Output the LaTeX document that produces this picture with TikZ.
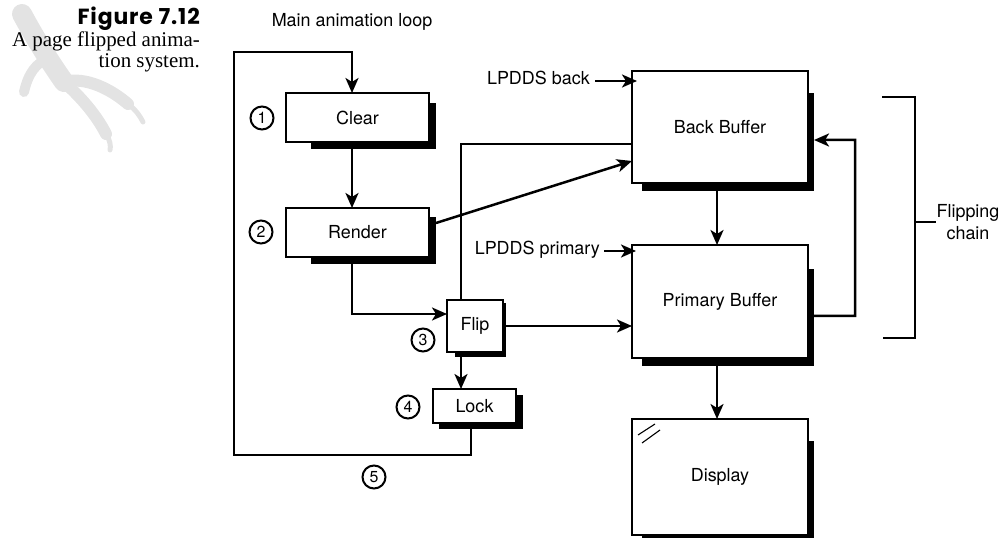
\documentclass[tikz,border=0pt]{standalone}
\usepackage{fontspec}
\setmainfont{Liberation Serif}
\newfontfamily\hel{TeX Gyre Heros}
\newfontfamily\figfont[LetterSpace=4]{Poppins}
\usetikzlibrary{arrows.meta,backgrounds}

% drop shade behind a box: name, left inset, top inset, right offset, bottom offset
\newcommand\boxshade[5]{%
  \fill ([xshift=#2bp,yshift=-#5bp]#1.south west) rectangle ([xshift=#4bp,yshift=-#3bp]#1.north east);}

\tikzset{
  every picture/.style={x=1bp,y=-1bp},
  stage/.style={draw, line width=2.5bp, fill=white, inner sep=0pt, outer sep=0pt,
    font=\hel\fontsize{18}{20}\selectfont},
  num/.style={circle, draw, line width=2bp, minimum size=23bp, inner sep=0pt,
    font=\hel\fontsize{16}{16}\selectfont},
  lbl/.style={inner sep=0pt, font=\hel\fontsize{18}{20}\selectfont},
  link/.style={line width=2.5bp},
  arr/.style={link, -{Stealth[length=15bp,width=13bp,inset=4bp]}},
  claw/.style={draw=black!11, line cap=round, line join=round},
}

\begin{document}
\begin{tikzpicture}
\useasboundingbox (0,0) rectangle (1003,538);

% faint claw emblem behind the caption
\draw[claw, line width=20bp] (22,14) .. controls (36,40) and (50,62) .. (64,82);
\draw[claw, line width=12bp] (64,82) .. controls (86,76) and (112,90) .. (128,104);
\draw[claw, line width=5bp] (128,104) .. controls (136,110) and (140,116) .. (143,122);
\draw[claw, line width=12bp] (64,82) .. controls (84,100) and (98,118) .. (106,134);
\draw[claw, line width=5bp] (106,134) .. controls (110,140) and (111,146) .. (110,150);
\draw[claw, line width=10bp] (50,58) .. controls (36,62) and (28,74) .. (24,92);

% caption
\node[inner sep=0pt, anchor=base east, font=\figfont\bfseries\fontsize{22}{24}\selectfont]
  (capt) at (200,25) {Figure 7.12};
\node[inner sep=0pt, anchor=base east, font=\fontsize{21}{22}\selectfont]
  (capa) at (200,47) {A page flipped anima-};
\node[inner sep=0pt, anchor=base east, font=\fontsize{21}{22}\selectfont]
  (capb) at (200,68) {tion system.};

% stages of the loop
\node[stage, minimum width=143bp, minimum height=49bp] (clear)  at (357.5,117.5) {Clear};
\node[stage, minimum width=143bp, minimum height=49bp] (render) at (357.5,232.5) {Render};
\node[stage, minimum width=56bp,  minimum height=52bp] (flip)   at (475,326)     {Flip};
\node[stage, minimum width=83bp,  minimum height=34bp] (lock)   at (474.5,406)   {Lock};

% surfaces
\node[stage, minimum width=176bp, minimum height=112bp] (back) at (720,127)   {Back Buffer};
\node[stage, minimum width=176bp, minimum height=113bp] (prim) at (720,301.5) {Primary Buffer};
\node[stage, minimum width=176bp, minimum height=116bp] (disp) at (720,477)   {Display};
\draw[line width=1.1bp] (638,435) -- (655,424) (642,443) -- (660,430);

\begin{scope}[on background layer]
  \boxshade{clear}{25}{10}{7}{7}
  \boxshade{render}{25}{9}{7}{7}
  \boxshade{flip}{8}{3}{3}{5}
  \boxshade{lock}{6}{6}{7}{6}
  \boxshade{back}{10}{22}{6}{8}
  \boxshade{prim}{10}{24}{6}{8}
  \boxshade{disp}{10}{22}{6}{8}
\end{scope}

% step numbers
\node[num] (n1) at (262,118) {1};
\node[num] (n2) at (261,232) {2};
\node[num] (n3) at (423,340) {3};
\node[num] (n4) at (408,407) {4};
\node[num] (n5) at (374,477) {5};

% labels
\node[lbl, anchor=base] (mainl) at (352,27) {Main animation loop};
\node[lbl, anchor=base east] (lback) at (590,85) {LPDDS back};
\node[lbl, anchor=base east] (lprim) at (600,255) {LPDDS primary};
\node[lbl, align=center, font=\hel\fontsize{18}{22}\selectfont] (chain) at (968,222) {Flipping\\chain};

% loop connectors
\coordinate (loopbl) at (234,455);
\coordinate (looptl) at (234,52);
\draw[arr] ([xshift=-3.5bp]lock.south) |- (loopbl) -- (looptl) -| ([xshift=-5.5bp]clear.north);
\draw[arr] ([xshift=-5.5bp]clear.south) -- ([xshift=-5.5bp]render.north);
\draw[arr] ([xshift=-5.5bp]render.south) |- ([yshift=12bp]flip.west);
\draw[arr] ([xshift=-14bp]flip.south) -- ([xshift=-14bp]flip.south |- lock.north);
\draw[link] ([xshift=-14bp]flip.north) |- ([yshift=-17bp]back.west);
\draw[arr] ([xshift=7bp,yshift=9.5bp]render.east) -- ([yshift=-34bp]back.west);
\draw[arr] ([xshift=3bp]flip.east) -- (flip.east -| prim.west);

% surface connectors
\draw[arr] ([xshift=5bp,yshift=4bp]lback.base east) -- ([xshift=5bp,yshift=4bp]lback.base east -| back.west);
\draw[arr] ([xshift=4bp,yshift=4bp]lprim.base east) -- ([xshift=4bp,yshift=4bp]lprim.base east -| prim.west);
\draw[arr] ([xshift=-3bp,yshift=-8bp]back.south) -- ([xshift=-3bp]prim.north);
\draw[arr] ([xshift=-3bp,yshift=-8bp]prim.south) -- ([xshift=-3bp]disp.north);
\coordinate (fbx) at (855,140);
\draw[arr] ([xshift=6bp,yshift=-14.5bp]prim.east) -| (fbx) -- ([xshift=6bp,yshift=-13bp]back.east);

% flipping chain bracket
\coordinate (brt) at (882,97);
\coordinate (brb) at (883,338);
\coordinate (brm) at (915,222);
\draw[link] (brt) -| (brm) |- (brb);
\draw[link] (brm) -- (chain.west);
\end{tikzpicture}
\end{document}
